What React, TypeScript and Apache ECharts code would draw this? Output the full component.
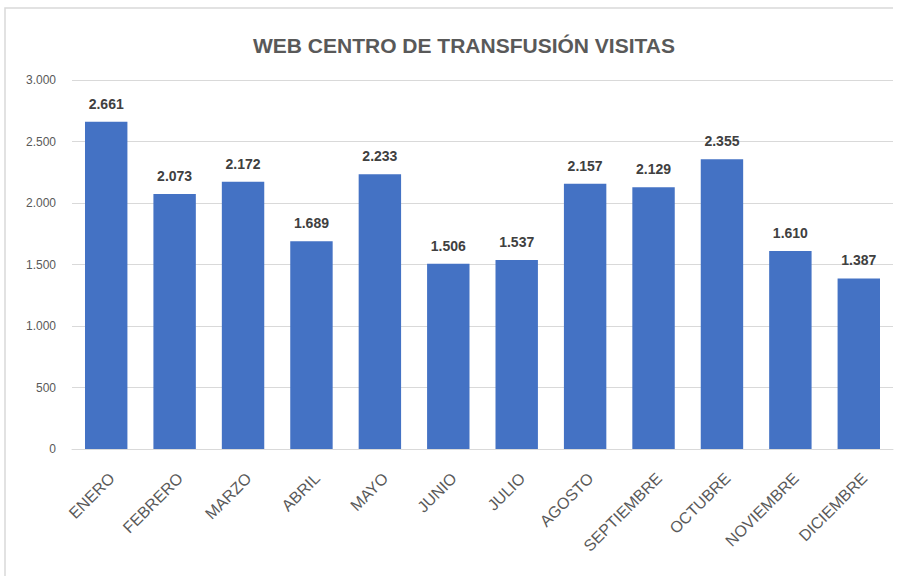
import React, { useEffect, useRef } from "react";
import * as echarts from "echarts";

const months = [
  "ENERO", "FEBRERO", "MARZO", "ABRIL", "MAYO", "JUNIO",
  "JULIO", "AGOSTO", "SEPTIEMBRE", "OCTUBRE", "NOVIEMBRE", "DICIEMBRE",
];
const visits = [2661, 2073, 2172, 1689, 2233, 1506, 1537, 2157, 2129, 2355, 1610, 1387];
const titleText = "WEB CENTRO DE TRANSFUSIÓN VISITAS";

const fmt = (v: number) => String(v).replace(/\B(?=(\d{3})+(?!\d))/g, ".");

export default function App() {
  const ref = useRef<HTMLDivElement>(null);
  useEffect(() => {
    if (!ref.current) return;
    const chart = echarts.init(ref.current, undefined, { renderer: "svg" });
    chart.setOption({
      animation: false,
      backgroundColor: "#ffffff",
      title: {
        text: titleText,
        left: 248,
        top: 30,
        textStyle: {
          fontFamily: "'Liberation Sans', sans-serif",
          fontSize: 21,
          fontWeight: "bold",
          color: "#595959",
        },
      },
      graphic: [
        {
          type: "polyline",
          shape: { points: [[5, 600], [5, 8], [893, 8]] },
          style: { fill: "none", stroke: "#d9d9d9", lineWidth: 1.5 },
          silent: true,
        },
      ],
      grid: { left: 72, right: 10, top: 80, bottom: 127 },
      xAxis: {
        type: "category",
        data: months,
        axisLine: { lineStyle: { color: "#d9d9d9" } },
        axisTick: { show: false },
        axisLabel: {
          rotate: 45,
          interval: 0,
          margin: 21,
          verticalAlign: "top",
          color: "#595959",
          fontSize: 16,
          fontFamily: "'Liberation Sans', sans-serif",
        },
      },
      yAxis: {
        type: "value",
        min: 0,
        max: 3000,
        interval: 500,
        axisLine: { show: false },
        axisTick: { show: false },
        splitLine: { lineStyle: { color: "#d9d9d9" } },
        axisLabel: {
          margin: 16,
          color: "#595959",
          fontSize: 12,
          fontFamily: "'Liberation Sans', sans-serif",
          formatter: (v: number) => fmt(v),
        },
      },
      series: [
        {
          type: "bar",
          data: visits,
          barWidth: "62%",
          itemStyle: { color: "#4472C4" },
          label: {
            show: true,
            position: "top",
            distance: 11,
            color: "#404040",
            fontSize: 14,
            fontWeight: "bold",
            fontFamily: "'Liberation Sans', sans-serif",
            formatter: (p: any) => fmt(p.value),
          },
        },
      ],
    });
    return () => chart.dispose();
  }, []);
  return (
    <div
      ref={ref}
      style={{ position: "fixed", left: 0, top: 0, width: 903, height: 576 }}
    />
  );
}
